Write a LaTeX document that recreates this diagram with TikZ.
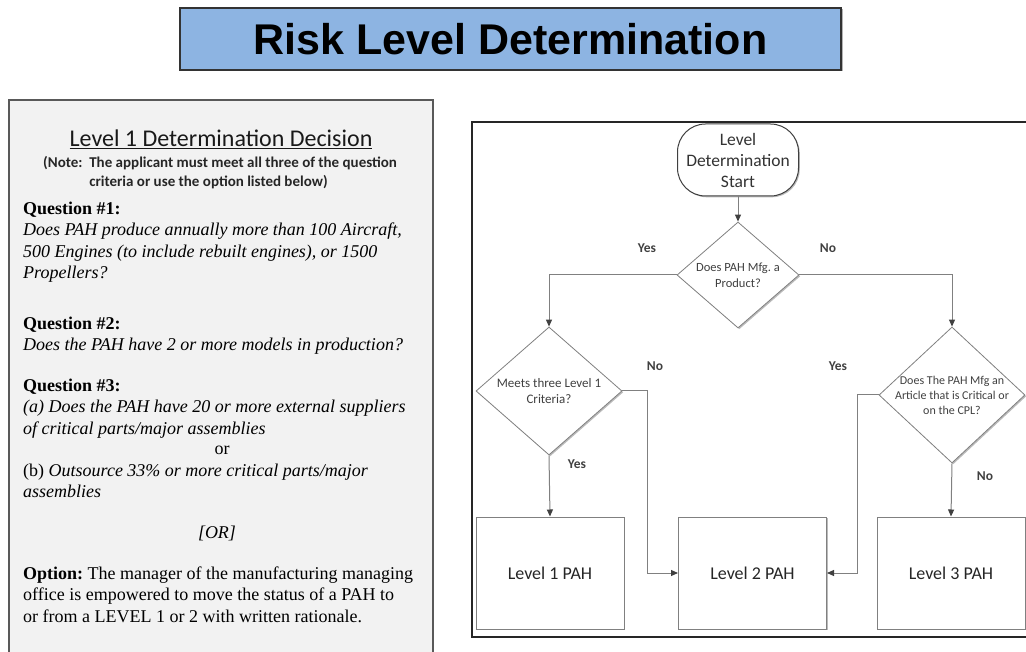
\documentclass[tikz,border=0pt]{standalone}
\usepackage{fontspec}
\setmainfont{Liberation Serif}
\newfontfamily\calfont{Carlito}
\newfontfamily\arialfont{Liberation Sans}
\usetikzlibrary{shapes.geometric,arrows.meta,shadows}
\definecolor{titleblue}{RGB}{141,180,226}
\definecolor{panelgray}{RGB}{242,242,242}
\definecolor{linegray}{RGB}{128,128,128}
\definecolor{inkgray}{RGB}{64,64,64}
\frenchspacing

\begin{document}
\begin{tikzpicture}[x=1pt, y=-1pt,
    every node/.style={inner sep=0pt},
    softshadow/.style={drop shadow={shadow xshift=1.3pt, shadow yshift=-1.3pt, fill=black!45, opacity=0.6}},
    textblock/.style={anchor=north west, align=left, font=\fontsize{18}{21.5}\selectfont},
    startbox/.style={rectangle, draw=inkgray, line width=1pt, rounded corners=28pt, fill=white, softshadow,
        minimum width=121, minimum height=72, align=center, text=black!80,
        font=\calfont\fontsize{17.5}{21}\selectfont},
    decision/.style={diamond, draw=linegray, line width=0.8pt, fill=white, softshadow},
    qtext/.style={align=center, text=inkgray, font=\calfont\fontsize{12}{15}\selectfont},
    levelbox/.style={rectangle, draw=linegray, line width=1pt, fill=white, softshadow,
        minimum width=148, minimum height=112, text=black!85,
        font=\calfont\fontsize{18}{22}\selectfont},
    answer/.style={text=inkgray, font=\calfont\bfseries\fontsize{13.5}{16}\selectfont},
    flow/.style={draw=linegray, line width=1pt, -{Triangle[length=7pt, width=6pt, color=inkgray]}}]

    \clip (0,0) rectangle (1026,652);

    % title bar
    \node[draw=black!80, line width=1.2pt, fill=titleblue, minimum width=661, minimum height=62,
        drop shadow={shadow xshift=1.5pt, shadow yshift=-1.5pt, fill=black!50, opacity=0.6},
        font=\arialfont\bfseries\fontsize{43}{50}\selectfont] (title) at (510.5,39) {Risk Level Determination};

    % left panel: level 1 questions
    \node[draw=black!65, line width=2pt, fill=panelgray, minimum width=424, minimum height=580] (panel) at (221,390) {};
    \node[anchor=base, text=black!90, font=\calfont\fontsize{24}{29}\selectfont] (heading) at (221,147)
        {\underline{Level 1 Determination Decision}};
    \node[anchor=north west, align=left, text=black!85, font=\calfont\bfseries\fontsize{15}{19}\selectfont] (note) at (43,153.7)
        {\strut(Note:\ \ The applicant must meet all three of the question\\\phantom{(Note:\ \ }criteria or use the option listed below)};
    \node[textblock] (qone) at (23,199)
        {\strut\textbf{Question \#1:}\\
         \textit{Does PAH produce annually more than 100 Aircraft,}\\
         \textit{500 Engines (to include rebuilt engines), or 1500}\\
         \textit{Propellers?}};
    \node[textblock] (qtwo) at (23,314)
        {\strut\textbf{Question \#2:}\\
         \textit{Does the PAH have 2 or more models in production?}};
    \node[textblock] (qthree) at (23,376)
        {\strut\textbf{Question \#3:}\\
         \textit{(a) Does the PAH have 20 or more external suppliers}\\
         \textit{of critical parts/major assemblies}};
    \node[anchor=base, font=\fontsize{18}{21.5}\selectfont] (orword) at (222,454) {or};
    \node[textblock] (qthreeb) at (23,461)
        {\strut(b) \textit{Outsource 33\% or more critical parts/major}\\
         \textit{assemblies}};
    \node[anchor=base, font=\fontsize{18}{21.5}\selectfont] (ornote) at (217,538) {\textit{[OR]}};
    \node[textblock] (option) at (23,564)
        {\strut\textbf{Option:} The manager of the manufacturing managing\\
         office is empowered to move the status of a PAH to\\
         or from a LEVEL 1 or 2 with written rationale.};

    % right panel: flow chart
    \draw[line width=2.5pt, draw=black!85] (472,122) rectangle (1040,637);

    \node[startbox] (start) at (738,160) {Level\\Determination\\Start};

    \node[decision, minimum width=122, minimum height=106] (prodq) at (738,275) {};
    \node[qtext, font=\calfont\fontsize{12.5}{16}\selectfont] (prodqtext) at (prodq) {Does PAH Mfg. a\\Product?};
    \node[decision, minimum width=146, minimum height=128] (critq) at (549,391) {};
    \node[qtext, font=\calfont\fontsize{13}{16}\selectfont] (critqtext) at (critq) {Meets three Level 1\\Criteria?};
    \node[decision, minimum width=146, minimum height=136] (articleq) at (952,395) {};
    \node[qtext] (articleqtext) at (articleq) {Does The PAH Mfg an\\Article that is Critical or\\on the CPL?};

    \node[levelbox] (lvlone) at (550,573) {Level 1 PAH};
    \node[levelbox] (lvltwo) at (752.5,573) {Level 2 PAH};
    \node[levelbox] (lvlthree) at (951,573) {Level 3 PAH};

    \draw[flow] (start) -- (prodq);
    \draw[flow] (prodq.west) -| (critq.north);
    \draw[flow] (prodq.east) -| (articleq.north);
    \draw[flow] (critq.south) -- (lvlone.north);
    \draw[flow] (critq.east) -- ++(25,0) |- (lvltwo.west);
    \draw[flow] (articleq.west) -- ++(-21,0) |- (lvltwo.east);
    \draw[flow] (articleq.south) -- (lvlthree.north);

    \node[answer] (yesprod) at (647,248) {Yes};
    \node[answer] (noprod) at (828,248) {No};
    \node[answer] (nocrit) at (655,366) {No};
    \node[answer] (yescrit) at (577,464) {Yes};
    \node[answer] (yesart) at (838,366) {Yes};
    \node[answer] (noart) at (985,476) {No};
\end{tikzpicture}
\end{document}
